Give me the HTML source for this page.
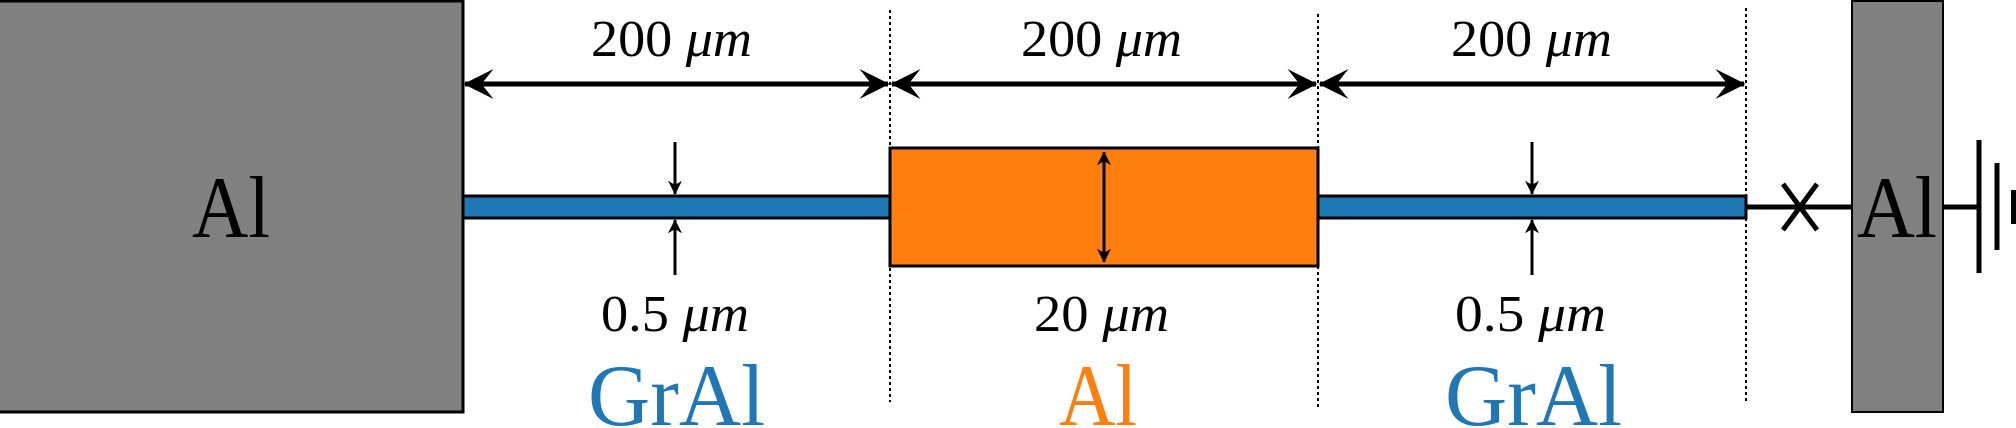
<!DOCTYPE html>
<html><head><meta charset="utf-8"><style>
html,body{margin:0;padding:0;background:#fff;}
svg{display:block;}
text{font-family:"Liberation Serif",serif;}
</style></head><body>
<svg width="2016" height="428" viewBox="0 0 2016 428">
<defs>
<marker id="ah" viewBox="0 0 20 20" refX="19" refY="10" markerWidth="46" markerHeight="30" markerUnits="userSpaceOnUse" orient="auto-start-reverse">
<path d="M0,0 L20,10 L0,20 L8,10 Z" fill="#000"/>
</marker>
<marker id="sh" viewBox="0 0 20 20" refX="19" refY="10" markerWidth="26" markerHeight="14" markerUnits="userSpaceOnUse" orient="auto-start-reverse">
<path d="M0,0 L20,10 L0,20 L6,10 Z" fill="#000"/>
</marker>
</defs>
<rect x="-2" y="1" width="465" height="411" fill="#808080" stroke="#000" stroke-width="3"/>
<text x="231" y="237" font-size="88" text-anchor="middle" textLength="78" lengthAdjust="spacingAndGlyphs">Al</text>
<g stroke="#000" stroke-width="2" stroke-dasharray="3,3">
<line x1="890" y1="10" x2="890" y2="402"/>
<line x1="1318" y1="14" x2="1318" y2="410"/>
<line x1="1746" y1="8" x2="1746" y2="404"/>
</g>
<rect x="463" y="196" width="427" height="22" fill="#1f77b4" stroke="#000" stroke-width="3"/>
<rect x="890" y="148" width="428" height="118" fill="#ff7f0e" stroke="#000" stroke-width="3"/>
<rect x="1318" y="196" width="428" height="22" fill="#1f77b4" stroke="#000" stroke-width="3"/>
<g stroke="#000" stroke-width="5">
<line x1="465" y1="84" x2="888" y2="84" marker-start="url(#ah)" marker-end="url(#ah)"/>
<line x1="892" y1="84" x2="1316" y2="84" marker-start="url(#ah)" marker-end="url(#ah)"/>
<line x1="1320" y1="84" x2="1744" y2="84" marker-start="url(#ah)" marker-end="url(#ah)"/>
</g>
<g stroke="#000" stroke-width="3">
<line x1="675" y1="142" x2="675" y2="194" marker-end="url(#sh)"/>
<line x1="675" y1="275" x2="675" y2="220" marker-end="url(#sh)"/>
<line x1="1532" y1="142" x2="1532" y2="194" marker-end="url(#sh)"/>
<line x1="1532" y1="275" x2="1532" y2="220" marker-end="url(#sh)"/>
<line x1="1104" y1="152" x2="1104" y2="262" marker-start="url(#sh)" marker-end="url(#sh)"/>
</g>
<g font-size="52">
<text x="591" y="56" textLength="161" lengthAdjust="spacingAndGlyphs">200 <tspan font-style="italic">μm</tspan></text>
<text x="1021" y="56" textLength="161" lengthAdjust="spacingAndGlyphs">200 <tspan font-style="italic">μm</tspan></text>
<text x="1451" y="56" textLength="161" lengthAdjust="spacingAndGlyphs">200 <tspan font-style="italic">μm</tspan></text>
<text x="601" y="331" textLength="148" lengthAdjust="spacingAndGlyphs">0.5 <tspan font-style="italic">μm</tspan></text>
<text x="1034" y="331" textLength="135" lengthAdjust="spacingAndGlyphs">20 <tspan font-style="italic">μm</tspan></text>
<text x="1455" y="331" textLength="151" lengthAdjust="spacingAndGlyphs">0.5 <tspan font-style="italic">μm</tspan></text>
</g>
<g font-size="88">
<text x="588" y="425" fill="#1f77b4" textLength="177" lengthAdjust="spacingAndGlyphs">GrAl</text>
<text x="1059" y="425" fill="#ff7f0e" textLength="78" lengthAdjust="spacingAndGlyphs">Al</text>
<text x="1445" y="425" fill="#1f77b4" textLength="177" lengthAdjust="spacingAndGlyphs">GrAl</text>
</g>
<g stroke="#000" stroke-width="5">
<line x1="1746" y1="207" x2="1852" y2="207"/>
<line x1="1783" y1="184" x2="1817" y2="230"/>
<line x1="1817" y1="184" x2="1783" y2="230"/>
<line x1="1943" y1="207" x2="1979" y2="207"/>
<line x1="1979" y1="140" x2="1979" y2="273"/>
<line x1="1997" y1="163" x2="1997" y2="250"/>
<line x1="2014" y1="190" x2="2014" y2="224" stroke-width="6"/>
</g>
<rect x="1852" y="1" width="91" height="411" fill="#808080" stroke="#000" stroke-width="2"/>
<text x="1897" y="237" font-size="88" text-anchor="middle" textLength="80" lengthAdjust="spacingAndGlyphs">Al</text>
</svg>
</body></html>
